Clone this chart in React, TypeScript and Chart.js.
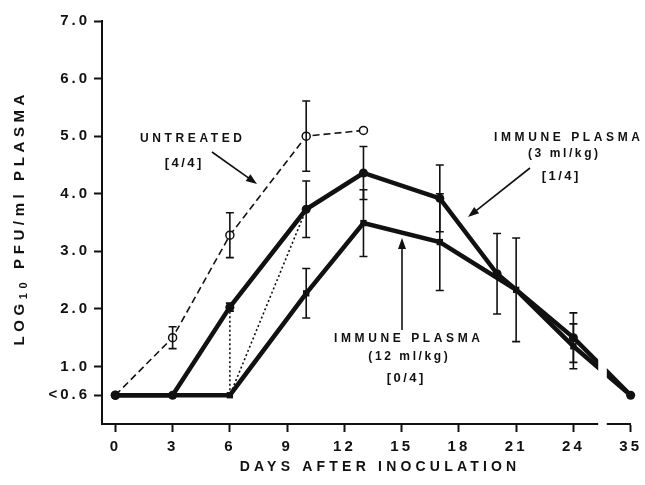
import React, { useEffect, useRef } from 'react';
import { Chart, registerables } from 'chart.js';

Chart.register(...registerables);

// ---- data (log10 PFU/ml plasma) ----
const untreatedDays = [0, 3, 6, 10, 13];
const untreatedLog = [0.5, 1.5, 3.28, 5.0, 5.1];
const untreatedErr = [0, 0.19, 0.39, 0.61, 0];

const dose3Days = [0, 3, 6, 10, 13, 17, 20, 24, 35];
const dose3Log = [0.5, 0.5, 2.03, 3.73, 4.36, 3.92, 2.61, 1.5, 0.5];
const dose3Err = [0, 0, 0.07, 0.49, 0.46, 0.58, 0.7, 0.43, 0];

const dose12Days = [0, 3, 6, 10, 13, 17, 21, 24, 35];
const dose12Log = [0.5, 0.5, 0.5, 2.27, 3.49, 3.16, 2.33, 1.35, 0.5];
const dose12Err = [0, 0, 0, 0.43, 0.58, 0.84, 0.9, 0.39, 0];

const subgroupDays = [6, 6, 10];
const subgroupLog = [2.03, 0.5, 3.73];

const xTickDays = [0, 3, 6, 9, 12, 15, 18, 21, 24, 35];
const yTickValues = [0.5, 1, 2, 3, 4, 5, 6, 7];
const yTickLabels = ['<0.6', '1.0', '2.0', '3.0', '4.0', '5.0', '6.0', '7.0'];

// broken axis: days after 24 are compressed so that day 35 sits one step after 24
const BREAK_AFTER = 24;
const BREAK_POS = 27;
const axisPos = (d: number) => (d > BREAK_AFTER ? BREAK_POS : d);

const FONT = '"Liberation Sans", Arial, Helvetica, sans-serif';
const INK = '#111';

const toPoints = (days: number[], vals: number[]) =>
  days.map((d, i) => ({ x: axisPos(d), y: vals[i] }));

function spacedText(ctx: CanvasRenderingContext2D, text: string, x: number, y: number, size: number, spacing: number) {
  ctx.save();
  ctx.font = `bold ${size}px ${FONT}`;
  (ctx as any).letterSpacing = spacing + 'px';
  ctx.textAlign = 'center';
  ctx.textBaseline = 'middle';
  ctx.fillStyle = INK;
  ctx.fillText(text, x + spacing / 2, y);
  ctx.restore();
}

function arrow(ctx: CanvasRenderingContext2D, x1: number, y1: number, x2: number, y2: number) {
  const ang = Math.atan2(y2 - y1, x2 - x1);
  const len = 11, w = 4;
  ctx.save();
  ctx.strokeStyle = INK;
  ctx.fillStyle = INK;
  ctx.lineWidth = 1.6;
  ctx.setLineDash([]);
  ctx.beginPath();
  ctx.moveTo(x1, y1);
  ctx.lineTo(x2 - Math.cos(ang) * len * 0.8, y2 - Math.sin(ang) * len * 0.8);
  ctx.stroke();
  ctx.beginPath();
  ctx.moveTo(x2, y2);
  ctx.lineTo(x2 - Math.cos(ang) * len - Math.sin(ang) * w, y2 - Math.sin(ang) * len + Math.cos(ang) * w);
  ctx.lineTo(x2 - Math.cos(ang) * len + Math.sin(ang) * w, y2 - Math.sin(ang) * len - Math.cos(ang) * w);
  ctx.closePath();
  ctx.fill();
  ctx.restore();
}

const spacingPlugin = {
  id: 'spacing',
  beforeDraw(chart: any) {
    (chart.ctx as any).letterSpacing = '3px';
  },
};

const errorBarPlugin = {
  id: 'errorBars',
  afterDatasetsDraw(chart: any) {
    const ctx: CanvasRenderingContext2D = chart.ctx;
    const xs = chart.scales.x;
    const ys = chart.scales.y;
    ctx.save();
    ctx.strokeStyle = INK;
    ctx.lineWidth = 1.6;
    ctx.setLineDash([]);
    chart.data.datasets.forEach((ds: any) => {
      if (!ds.errors) return;
      ds.data.forEach((p: any, i: number) => {
        const e = ds.errors[i];
        if (!e) return;
        const px = xs.getPixelForValue(p.x);
        const top = ys.getPixelForValue(p.y + e);
        const bot = ys.getPixelForValue(p.y - e);
        ctx.beginPath();
        ctx.moveTo(px, top);
        ctx.lineTo(px, bot);
        ctx.moveTo(px - 4, top);
        ctx.lineTo(px + 4, top);
        ctx.moveTo(px - 4, bot);
        ctx.lineTo(px + 4, bot);
        ctx.stroke();
      });
    });
    ctx.restore();
  },
};

const decorPlugin = {
  id: 'decor',
  afterDraw(chart: any) {
    const ctx: CanvasRenderingContext2D = chart.ctx;
    const xs = chart.scales.x;
    const ys = chart.scales.y;
    // axis break gap
    const bx1 = xs.getPixelForValue(25.3);
    const bx2 = xs.getPixelForValue(25.75);
    ctx.save();
    ctx.fillStyle = '#fff';
    ctx.beginPath();
    ctx.rect(bx1, ys.getPixelForValue(1.4), bx2 - bx1, ys.bottom + 4 - ys.getPixelForValue(1.4));
    ctx.fill();
    ctx.restore();

    // annotations
    spacedText(ctx, 'UNTREATED', 191, 139, 12, 3.6);
    spacedText(ctx, '[4/4]', 183, 163, 13, 2.5);
    arrow(ctx, 212, 152, 257, 184);

    spacedText(ctx, 'IMMUNE PLASMA', 567, 138, 12, 3.6);
    spacedText(ctx, '(3 ml/kg)', 563, 154, 12, 2.6);
    spacedText(ctx, '[1/4]', 560, 176, 13, 2.5);
    arrow(ctx, 530, 168, 468, 217);

    spacedText(ctx, 'IMMUNE PLASMA', 407, 339, 12, 3.6);
    spacedText(ctx, '(12 ml/kg)', 408, 357, 12, 2.6);
    spacedText(ctx, '[0/4]', 405, 378, 13, 2.5);
    arrow(ctx, 402, 330, 402, 238);

    // x title
    spacedText(ctx, 'DAYS AFTER INOCULATION', 378, 467, 14, 4.2);

    // y title with subscript
    ctx.save();
    ctx.translate(20, 220);
    ctx.rotate(-Math.PI / 2);
    ctx.fillStyle = INK;
    ctx.textBaseline = 'middle';
    ctx.textAlign = 'left';
    const sp = 4.6;
    (ctx as any).letterSpacing = sp + 'px';
    const big = `bold 15px ${FONT}`;
    const small = `bold 11px ${FONT}`;
    ctx.font = big;
    const w1 = ctx.measureText('LOG').width;
    const w3 = ctx.measureText(' PFU/ml PLASMA').width;
    ctx.font = small;
    const w2 = ctx.measureText('10').width;
    const total = w1 + w2 + w3 - sp;
    let x = -total / 2;
    ctx.font = big;
    ctx.fillText('LOG', x, 0);
    x += w1;
    ctx.font = small;
    ctx.fillText('10', x, 4);
    x += w2;
    ctx.font = big;
    ctx.fillText(' PFU/ml PLASMA', x, 0);
    ctx.restore();
  },
};

export default function App() {
  const ref = useRef<HTMLCanvasElement>(null);

  useEffect(() => {
    if (!ref.current) return;
    const chart = new Chart(ref.current, {
      type: 'line',
      data: {
        datasets: [
          {
            label: 'Immune plasma (3 ml/kg)',
            data: toPoints(dose3Days, dose3Log),
            errors: dose3Err,
            borderColor: INK,
            backgroundColor: INK,
            borderWidth: 4.5,
            pointRadius: 4.5,
            pointStyle: 'circle',
            pointBackgroundColor: INK,
            pointBorderWidth: 0,
            clip: false,
          } as any,
          {
            label: 'Immune plasma (12 ml/kg)',
            data: toPoints(dose12Days, dose12Log),
            errors: dose12Err,
            borderColor: INK,
            backgroundColor: INK,
            borderWidth: 4.5,
            pointRadius: 4.5,
            pointStyle: 'rect',
            pointBackgroundColor: INK,
            pointBorderWidth: 0,
            clip: false,
          } as any,
          {
            label: 'Untreated',
            data: toPoints(untreatedDays, untreatedLog),
            errors: untreatedErr,
            borderColor: INK,
            backgroundColor: '#fff',
            borderWidth: 1.6,
            borderDash: [7, 4],
            pointRadius: 4,
            pointStyle: 'circle',
            pointBackgroundColor: '#fff',
            pointBorderColor: INK,
            pointBorderWidth: 1.5,
            clip: false,
          } as any,
          {
            label: 'Subgroup',
            data: toPoints(subgroupDays, subgroupLog),
            borderColor: INK,
            borderWidth: 1.6,
            borderDash: [2, 2.5],
            pointRadius: 0,
            clip: false,
          } as any,
        ],
      },
      options: {
        animation: false,
        responsive: false,
        devicePixelRatio: 1,
        layout: { padding: { left: 0, top: 21, right: 11, bottom: 0 } },
        plugins: {
          legend: { display: false },
          tooltip: { enabled: false },
        },
        scales: {
          x: {
            type: 'linear',
            min: -0.7,
            max: BREAK_POS,
            afterBuildTicks: (scale: any) => {
              scale.ticks = xTickDays.map((d) => ({ value: axisPos(d) }));
            },
            afterFit: (scale: any) => {
              scale.height = 61;
            },
            grid: {
              drawOnChartArea: false,
              drawTicks: true,
              tickLength: 8,
              tickWidth: 2,
              tickColor: INK,
            },
            border: { display: true, color: INK, width: 2 },
            ticks: {
              color: INK,
              padding: 6,
              maxRotation: 0,
              autoSkip: false,
              font: { family: FONT, size: 15, weight: 'bold' },
              callback: (v: any) => {
                const d = xTickDays.find((t) => axisPos(t) === v);
                return d === undefined ? '' : String(d);
              },
            },
          },
          y: {
            type: 'linear',
            min: 0,
            max: 7,
            afterBuildTicks: (scale: any) => {
              scale.ticks = yTickValues.map((v) => ({ value: v }));
            },
            afterFit: (scale: any) => {
              scale.width = 102;
            },
            grid: {
              drawOnChartArea: false,
              drawTicks: true,
              tickLength: 8,
              tickWidth: 2,
              tickColor: INK,
            },
            border: { display: true, color: INK, width: 2 },
            ticks: {
              color: INK,
              padding: 4,
              autoSkip: false,
              font: { family: FONT, size: 15, weight: 'bold' },
              callback: (v: any) => {
                const i = yTickValues.indexOf(v);
                return i < 0 ? '' : yTickLabels[i];
              },
            },
          },
        },
      } as any,
      plugins: [spacingPlugin, errorBarPlugin, decorPlugin],
    });
    return () => chart.destroy();
  }, []);

  return (
    <div style={{ position: 'fixed', left: 0, top: 0, width: 645, height: 485, background: '#fff' }}>
      <canvas ref={ref} width={645} height={485} />
    </div>
  );
}
